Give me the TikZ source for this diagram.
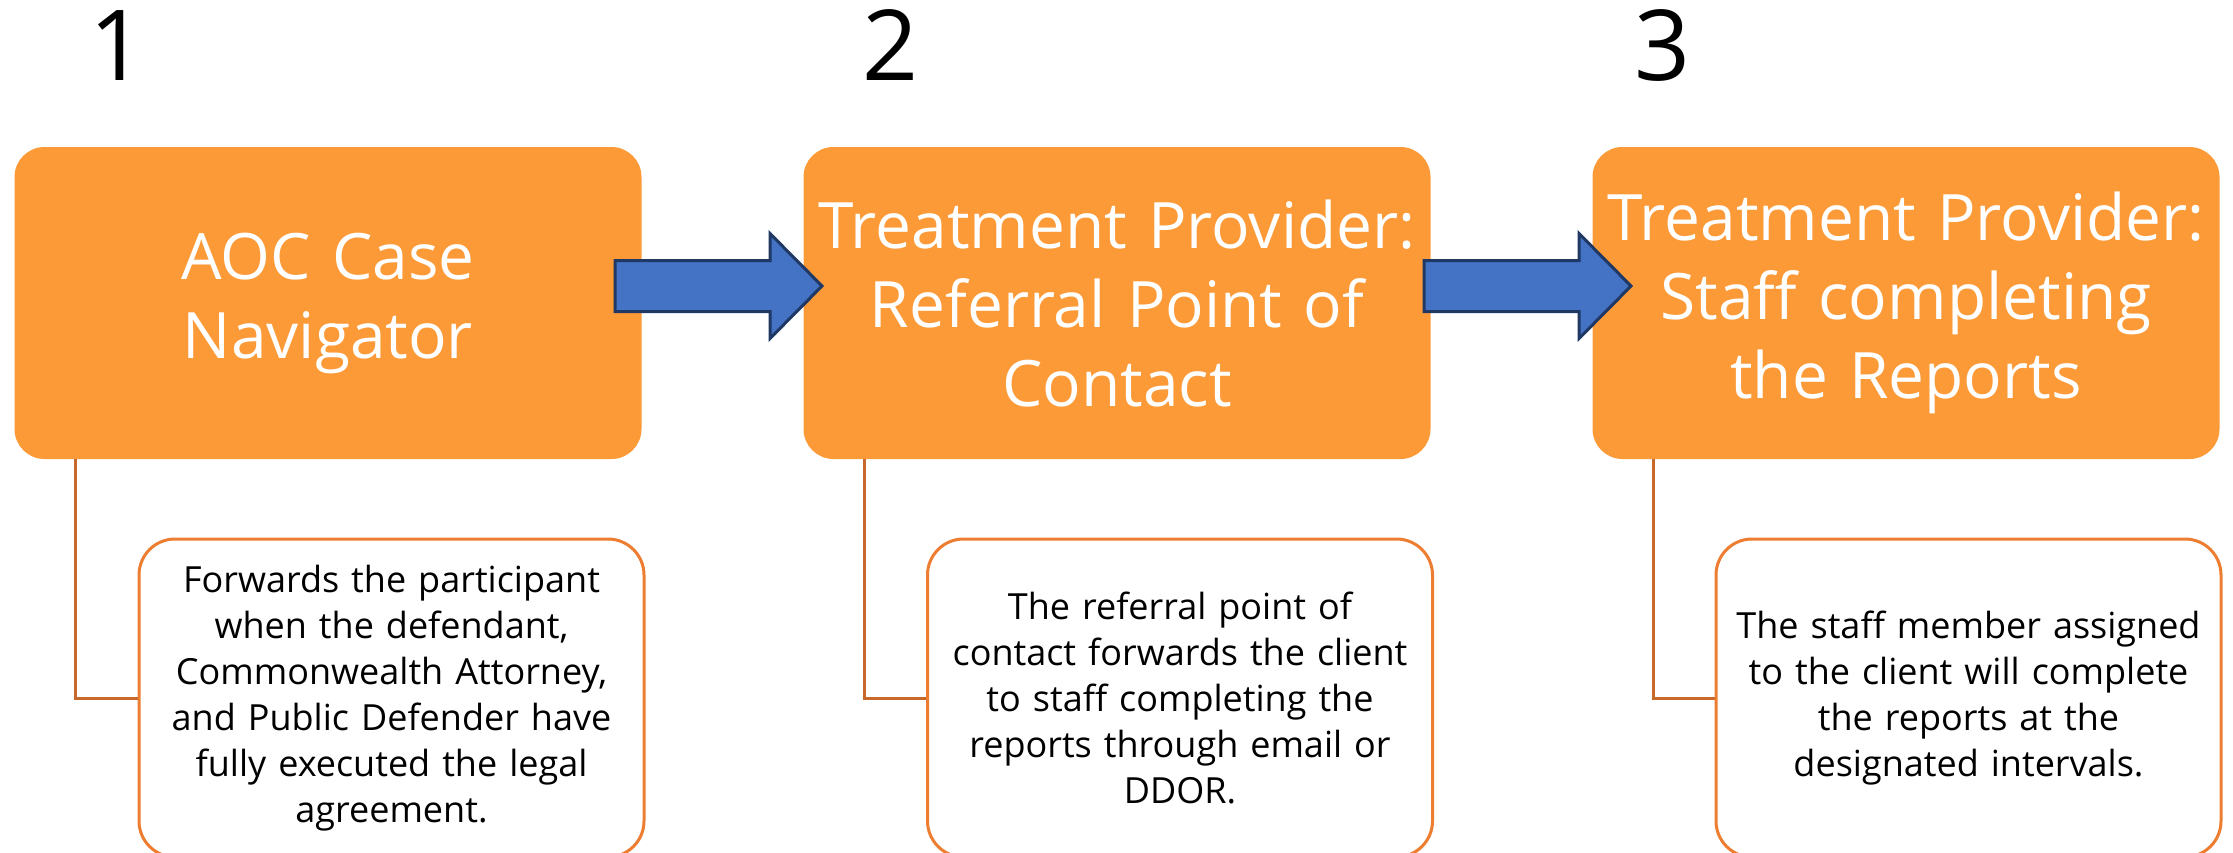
\documentclass[tikz,border=0pt]{standalone}
\usepackage{fontspec}
\setmainfont{Open Sans}
\definecolor{boxorange}{HTML}{FD9A38}
\definecolor{lineorange}{HTML}{ED7D31}
\definecolor{connorange}{HTML}{C8692C}
\definecolor{arrowblue}{HTML}{4472C4}
\definecolor{arrowedge}{HTML}{1F3864}
\tikzset{
  headbox/.style={fill=boxorange, draw=none, rounded corners=30pt,
    minimum width=627pt, minimum height=312pt, inner sep=0pt,
    text width=626pt, align=center, text=white,
    font=\fontsize{64}{79}\selectfont},
  notebox/.style={fill=white, draw=lineorange, line width=3pt, rounded corners=36pt,
    minimum width=505pt, minimum height=318pt, inner sep=0pt,
    text width=495pt, align=center, text=black,
    font=\fontsize{36}{46}\selectfont},
  numlabel/.style={anchor=base, inner sep=0pt, text=black,
    font=\fontsize{98}{100}\selectfont},
  conn/.style={draw=connorange, line width=3pt},
  barrow/.style={fill=arrowblue, draw=arrowedge, line width=3pt, line join=miter},
}
\newcommand\blockarrow[1]{%
  \draw[barrow] (#1) ++(0,-25.5) -- ++(155,0) -- ++(0,-27) -- ++(52,52.5)
    -- ++(-52,52.5) -- ++(0,-27) -- ++(-155,0) -- cycle;}
\begin{document}
\begin{tikzpicture}[x=1pt,y=-1pt]
\useasboundingbox (0,0) rectangle (2233,852);
% step numbers
\node[numlabel] (n1) at (118,80) {1};
\node[numlabel] (n2) at (891,80) {2};
\node[numlabel] (n3) at (1662,80) {3};
% header boxes
\node[headbox] (h1) at (328,303) {AOC Case\\Navigator};
\node[headbox] (h2) at (1117,303) {Treatment Provider:\\Referral Point of\\Contact};
\node[headbox] (h3) at (1906,303) {Treatment Provider:\\Staff completing\\the Reports};
% note boxes
\node[notebox] (d1) at (391.5,698) {Forwards the participant\\when the defendant,\\Commonwealth Attorney,\\and Public Defender have\\fully executed the legal\\agreement.};
\node[notebox] (d2) at (1180,698) {The referral point of\\contact forwards the client\\to staff completing the\\reports through email or\\DDOR.};
\node[notebox] (d3) at (1968.5,698) {The staff member assigned\\to the client will complete\\the reports at the\\designated intervals.};
% connectors
\draw[conn] ([xshift=61pt]h1.south west) |- (d1.west);
\draw[conn] ([xshift=61pt]h2.south west) |- (d2.west);
\draw[conn] ([xshift=61pt]h3.south west) |- (d3.west);
% block arrows
\coordinate (a1) at (615,286);
\coordinate (a2) at (1424,286);
\blockarrow{a1}
\blockarrow{a2}
\end{tikzpicture}
\end{document}
